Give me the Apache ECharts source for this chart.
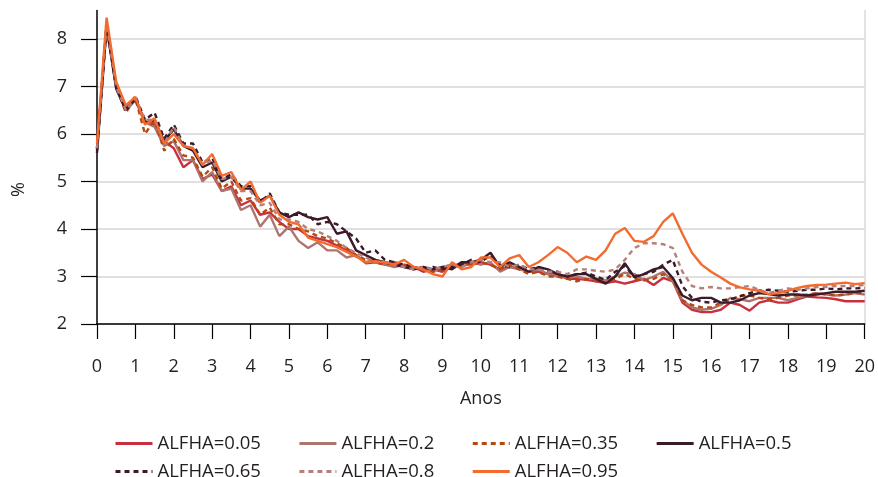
<!DOCTYPE html>
<html>
<head>
<meta charset="utf-8">
<script src="https://cdn.jsdelivr.net/npm/echarts@6/dist/echarts.min.js"></script>
<style>html,body{margin:0;padding:0;background:#fff}#chart{width:878px;height:477px}</style>
</head>
<body>
<div id="chart"></div>
<script>
// time axis (years), quarterly
var anos = [0,0.25,0.5,0.75,1,1.25,1.5,1.75,2,2.25,2.5,2.75,3,3.25,3.5,3.75,4,4.25,4.5,4.75,
5,5.25,5.5,5.75,6,6.25,6.5,6.75,7,7.25,7.5,7.75,8,8.25,8.5,8.75,9,9.25,9.5,9.75,
10,10.25,10.5,10.75,11,11.25,11.5,11.75,12,12.25,12.5,12.75,13,13.25,13.5,13.75,14,14.25,14.5,14.75,
15,15.25,15.5,15.75,16,16.25,16.5,16.75,17,17.25,17.5,17.75,18,18.25,18.5,18.75,19,19.25,19.5,19.75,20];
var xTicks = [0,1,2,3,4,5,6,7,8,9,10,11,12,13,14,15,16,17,18,19,20];
var yTicks = [2,3,4,5,6,7,8];
var seriesNames = ['ALFHA=0.05','ALFHA=0.2','ALFHA=0.35','ALFHA=0.5','ALFHA=0.65','ALFHA=0.8','ALFHA=0.95'];

var alfha005 = [5.7,8.3,7.0,6.55, 6.75,6.25,6.2,5.85, 5.7,5.3,5.45,5.05, 5.15,4.8,4.9,4.5, 4.6,4.3,4.35,4.15,
4.0,4.0,3.85,3.8, 3.75,3.65,3.55,3.45, 3.28,3.3,3.25,3.3, 3.2,3.2,3.1,3.15, 3.1,3.2,3.3,3.25,
3.3,3.25,3.15,3.2, 3.2,3.1,3.1,3.05, 3.05,2.95,2.95,2.93, 2.9,2.86,2.9,2.85, 2.9,2.95,2.82,2.97,
2.9,2.45,2.3,2.25, 2.25,2.3,2.45,2.4, 2.28,2.45,2.5,2.45, 2.45,2.52,2.58,2.56, 2.55,2.52,2.48,2.48, 2.48];
var alfha02 = [5.7,8.3,7.0,6.5, 6.7,6.25,6.15,5.75, 5.85,5.45,5.45,5.0, 5.2,4.8,4.85,4.4, 4.5,4.05,4.3,3.85,
4.05,3.75,3.6,3.72, 3.55,3.55,3.4,3.45, 3.3,3.35,3.25,3.2, 3.25,3.15,3.2,3.1, 3.2,3.25,3.2,3.3,
3.25,3.3,3.1,3.2, 3.15,3.1,3.15,3.05, 3.0,2.98,3.0,2.95, 2.95,2.92,3.0,3.08, 3.05,2.92,3.0,3.1,
2.9,2.5,2.35,2.3, 2.32,2.4,2.55,2.52, 2.48,2.55,2.55,2.55, 2.5,2.55,2.6,2.65, 2.62,2.6,2.62,2.65, 2.62];
var alfha035 = [5.7,8.3,7.0,6.45, 6.75,6.0,6.3,5.65, 5.9,5.55,5.5,5.1, 5.3,4.85,5.0,4.6, 4.65,4.3,4.45,4.1,
4.1,4.0,3.95,3.85, 3.8,3.7,3.6,3.45, 3.35,3.3,3.25,3.3, 3.25,3.2,3.15,3.1, 3.15,3.2,3.25,3.25,
3.3,3.25,3.15,3.25, 3.15,3.05,3.1,3.0, 3.0,2.95,2.9,2.95, 2.9,2.88,2.95,3.05, 2.95,2.92,2.95,3.05,
2.95,2.5,2.4,2.35, 2.35,2.45,2.5,2.6, 2.6,2.55,2.52,2.55, 2.6,2.6,2.62,2.65, 2.62,2.6,2.62,2.65, 2.65];
var alfha05 = [5.6,8.25,6.95,6.5, 6.75,6.25,6.3,5.85, 6.1,5.75,5.65,5.3, 5.4,5.0,5.1,4.85, 4.85,4.6,4.7,4.35,
4.25,4.35,4.25,4.2, 4.25,3.9,3.95,3.55, 3.45,3.35,3.3,3.25, 3.2,3.15,3.2,3.15, 3.2,3.15,3.3,3.3,
3.35,3.5,3.2,3.3, 3.2,3.1,3.2,3.15, 3.05,3.0,3.05,3.05, 2.95,2.85,3.0,3.28, 2.98,3.05,3.15,3.2,
2.97,2.6,2.5,2.55, 2.55,2.45,2.45,2.5, 2.6,2.65,2.63,2.6, 2.62,2.62,2.6,2.62, 2.65,2.68,2.68,2.68, 2.7];
var alfha065 = [5.65,8.3,7.0,6.5, 6.8,6.3,6.45,5.9, 6.2,5.8,5.8,5.4, 5.5,5.05,5.15,4.9, 4.9,4.55,4.75,4.35,
4.3,4.3,4.3,4.1, 4.15,4.1,3.95,3.8, 3.5,3.55,3.35,3.3, 3.25,3.2,3.15,3.2, 3.15,3.2,3.25,3.35,
3.3,3.45,3.25,3.2, 3.25,3.15,3.2,3.1, 3.1,3.0,3.05,3.08, 3.0,2.93,3.1,3.22, 3.0,3.05,3.1,3.25,
3.35,2.8,2.55,2.47, 2.45,2.5,2.52,2.58, 2.65,2.7,2.72,2.7, 2.68,2.7,2.72,2.72, 2.75,2.73,2.75,2.75, 2.76];
var alfha08 = [5.7,8.3,7.0,6.5, 6.75,6.3,6.3,5.8, 6.15,5.75,5.7,5.35, 5.45,5.05,5.1,4.8, 4.8,4.5,4.55,4.2,
4.2,4.15,4.0,3.95, 3.85,3.75,3.6,3.5, 3.4,3.3,3.3,3.25, 3.2,3.15,3.2,3.15, 3.2,3.25,3.2,3.3,
3.35,3.3,3.3,3.2, 3.25,3.15,3.15,3.1, 3.1,3.05,3.15,3.15, 3.12,3.1,3.15,3.35, 3.6,3.7,3.7,3.68,
3.6,3.1,2.8,2.75, 2.78,2.75,2.75,2.78, 2.8,2.72,2.65,2.7, 2.75,2.72,2.75,2.78, 2.78,2.8,2.8,2.8, 2.82];
var alfha095 = [5.8,8.45,7.1,6.6, 6.78,6.2,6.33,5.8, 6.0,5.75,5.7,5.35, 5.58,5.12,5.2,4.82, 5.0,4.55,4.7,4.3,
4.15,4.1,3.82,3.75, 3.68,3.62,3.52,3.42, 3.3,3.32,3.3,3.25, 3.35,3.2,3.15,3.05, 3.0,3.3,3.15,3.2,
3.4,3.4,3.2,3.38, 3.45,3.2,3.3,3.45, 3.62,3.5,3.3,3.42, 3.35,3.55,3.9,4.02, 3.75,3.73,3.85,4.15,
4.33,3.9,3.5,3.25, 3.1,2.98,2.85,2.77, 2.73,2.7,2.63,2.65, 2.7,2.76,2.8,2.82, 2.83,2.85,2.87,2.84, 2.86];

var values = [alfha005, alfha02, alfha035, alfha05, alfha065, alfha08, alfha095];
var colors = ['#c9303e', '#ad7470', '#b5470f', '#3b1a2a', '#3b1a2a', '#b5807a', '#f26b2f'];
var dashed = [false, false, true, false, true, true, false];

var FONT = "'Open Sans', 'Noto Sans', sans-serif";

var series = values.map(function (vals, i) {
  return {
    name: seriesNames[i],
    type: 'line',
    data: anos.map(function (t, k) { return [t, vals[k]]; }),
    symbol: 'none',
    showSymbol: false,
    smooth: false,
    clip: false,
    lineStyle: { color: colors[i], width: 2.4, type: dashed[i] ? [5, 4] : 'solid' },
    itemStyle: { color: colors[i] },
    emphasis: { disabled: true },
    z: 2 + i
  };
});

var legendCommon = {
  left: 109,
  orient: 'horizontal',
  itemWidth: 37,
  itemHeight: 14,
  itemGap: 37,
  itemStyle: { opacity: 0 },
  lineStyle: { width: 3 },
  textStyle: { fontSize: 18.5, color: '#231f20', fontFamily: FONT }
};

var chart = echarts.init(document.getElementById('chart'), null, { renderer: 'canvas' });
chart.setOption({
  animation: false,
  backgroundColor: '#fff',
  grid: { left: 97, right: 8, top: 10.5, bottom: 153, containLabel: false },
  legend: [
    Object.assign({}, legendCommon, { top: 429, data: seriesNames.slice(0, 4) }),
    Object.assign({}, legendCommon, { top: 457, data: seriesNames.slice(4) })
  ],
  xAxis: {
    type: 'value', min: 0, max: 20, interval: 1,
    axisLine: { show: true, onZero: false, lineStyle: { color: '#000', width: 1.5 } },
    axisTick: { show: true, length: 15, lineStyle: { color: '#000', width: 1.2 } },
    axisLabel: { margin: 34, fontSize: 18, color: '#231f20', fontFamily: FONT, customValues: xTicks },
    splitLine: { show: false },
    name: 'Anos', nameLocation: 'middle', nameGap: 66,
    nameTextStyle: { fontSize: 18, color: '#231f20', fontFamily: FONT }
  },
  yAxis: [{
    type: 'value', min: 2, max: 8.6, interval: 1,
    axisLine: { show: true, lineStyle: { color: '#000', width: 1.5 } },
    axisTick: { show: true, length: 16, customValues: yTicks, lineStyle: { color: '#000', width: 1.2 } },
    axisLabel: { margin: 30, fontSize: 18, color: '#231f20', fontFamily: FONT, customValues: yTicks },
    splitLine: { show: true, lineStyle: { color: '#d6d6d6', width: 1.5 } }
  }, {
    type: 'value', min: 2, max: 8.6, position: 'right',
    axisLine: { show: true, lineStyle: { color: '#d9d9d9', width: 1.5 } },
    axisTick: { show: false }, axisLabel: { show: false }, splitLine: { show: false }
  }],
  graphic: [{
    type: 'text', left: 10, top: 182, rotation: Math.PI / 2,
    style: { text: '%', fontSize: 18, fill: '#231f20', fontFamily: FONT }
  }],
  series: series
});
</script>
</body>
</html>
